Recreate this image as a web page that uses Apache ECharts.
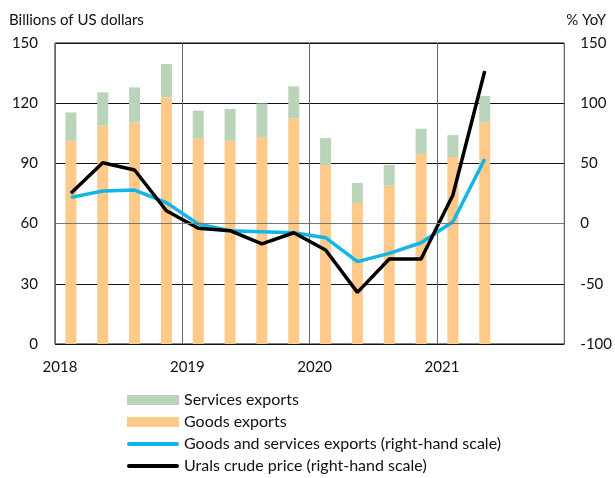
<!DOCTYPE html>
<html>
<head>
<meta charset="utf-8">
<script src="https://cdn.jsdelivr.net/npm/echarts@6/dist/echarts.min.js"></script>
<style>html,body{margin:0;padding:0;background:#fff}#c{width:615px;height:478px}</style>
</head>
<body>
<div id="c"></div>
<script>
var categories = ['2018Q1','2018Q2','2018Q3','2018Q4','2019Q1','2019Q2','2019Q3','2019Q4','2020Q1','2020Q2','2020Q3','2020Q4','2021Q1','2021Q2','2021Q3','2021Q4'];
var goodsExports = [101.3,108.8,110.4,122.9,102.5,101.3,103.0,112.3,89.2,70.3,78.9,94.7,93.2,110.3,null,null];
var servicesExports = [14.1,16.6,17.5,16.6,13.8,15.8,16.9,16.1,13.4,9.9,10.3,12.6,10.9,13.3,null,null];
var goodsServicesYoY = [21.8,27.1,27.9,17.4,-0.3,-5.9,-6.7,-7.6,-11.7,-31.6,-24.7,-15.9,1.6,53.7,null,null];
var uralsYoY = [25.2,50.6,44.5,10.7,-3.9,-5.9,-16.9,-7.6,-21.9,-57.1,-29.4,-29.4,23.8,126.7,null,null];
var yearLabels = ['2018','2019','2020','2021',''];
var leftTicks = [0,30,60,90,120,150];
var rightTicks = [-100,-50,0,50,100,150];

var FONT = 'Lato';
var LINE_ICON = 'path://M2,0H50A2,2 0 0 1 50,4H2A2,2 0 0 1 2,0Z';
var chart = echarts.init(document.getElementById('c'), null, {renderer:'canvas'});
chart.setOption({
  animation:false,
  textStyle:{fontFamily:FONT},
  title:[
    {text:'Billions of US dollars', left:4, top:8, textStyle:{fontFamily:FONT,fontSize:15,fontWeight:'normal',color:'#111'}},
    {text:'% YoY', right:4, top:8, textStyle:{fontFamily:FONT,fontSize:15,fontWeight:'normal',color:'#111'}}
  ],
  grid:{left:55, right:48, top:43, bottom:134, show:true, borderColor:'#111', borderWidth:1, containLabel:false},
  xAxis:[
    {type:'category', data:categories, boundaryGap:true, axisLine:{show:false}, axisTick:{show:false}, axisLabel:{show:false}, splitLine:{show:false}},
    {type:'value', min:0, max:16, interval:4, position:'bottom', axisLine:{show:false}, axisTick:{show:false},
     splitLine:{show:true, lineStyle:{color:'#666', width:1}},
     axisLabel:{show:true, margin:16, color:'#111', fontSize:15, fontFamily:FONT, padding:[0,0,0,10],
       formatter:function(v){return yearLabels[Math.round(v/4)] || '';}}}
  ],
  yAxis:[
    {type:'value', min:leftTicks[0], max:leftTicks[leftTicks.length-1], interval:30, position:'left',
     axisLine:{show:false}, axisTick:{show:false},
     splitLine:{show:true, lineStyle:{color:'#111', width:1}},
     axisLabel:{margin:17, color:'#111', fontSize:15, fontFamily:FONT}},
    {type:'value', min:rightTicks[0], max:rightTicks[rightTicks.length-1], interval:50, position:'right',
     axisLine:{show:false}, axisTick:{show:false}, splitLine:{show:false},
     axisLabel:{margin:16, color:'#111', fontSize:15, fontFamily:FONT}}
  ],
  legend:{
    orient:'vertical', left:127, top:391, padding:0, itemWidth:52, itemHeight:10, itemGap:4,
    textStyle:{fontFamily:FONT, fontSize:16, color:'#111', lineHeight:18},
    data:[
      {name:'Services exports', icon:'rect'},
      {name:'Goods exports', icon:'rect'},
      {name:'Goods and services exports (right-hand scale)', icon:LINE_ICON, itemStyle:{color:'#12B6E6', borderWidth:0}},
      {name:'Urals crude price (right-hand scale)', icon:LINE_ICON, itemStyle:{color:'#000', borderWidth:0}}
    ]
  },
  series:[
    {name:'Goods exports', type:'bar', stack:'x', xAxisIndex:0, yAxisIndex:0, data:goodsExports, barWidth:11,
     itemStyle:{color:'#FEC989'}},
    {name:'Services exports', type:'bar', stack:'x', xAxisIndex:0, yAxisIndex:0, data:servicesExports, barWidth:11,
     itemStyle:{color:'#B9D4B9'}},
    {name:'Goods and services exports (right-hand scale)', type:'line', xAxisIndex:0, yAxisIndex:1, data:goodsServicesYoY,
     symbol:'none', lineStyle:{color:'#12B6E6', width:3.5}, itemStyle:{color:'#12B6E6'},
     markLine:{silent:true, symbol:'none', label:{show:false}, lineStyle:{color:'#777', width:1, type:'solid'}, data:[{yAxis:0}]}},
    {name:'Urals crude price (right-hand scale)', type:'line', xAxisIndex:0, yAxisIndex:1, data:uralsYoY,
     symbol:'none', lineStyle:{color:'#000', width:3.5}, itemStyle:{color:'#000'}}
  ]
});
</script>
</body>
</html>
